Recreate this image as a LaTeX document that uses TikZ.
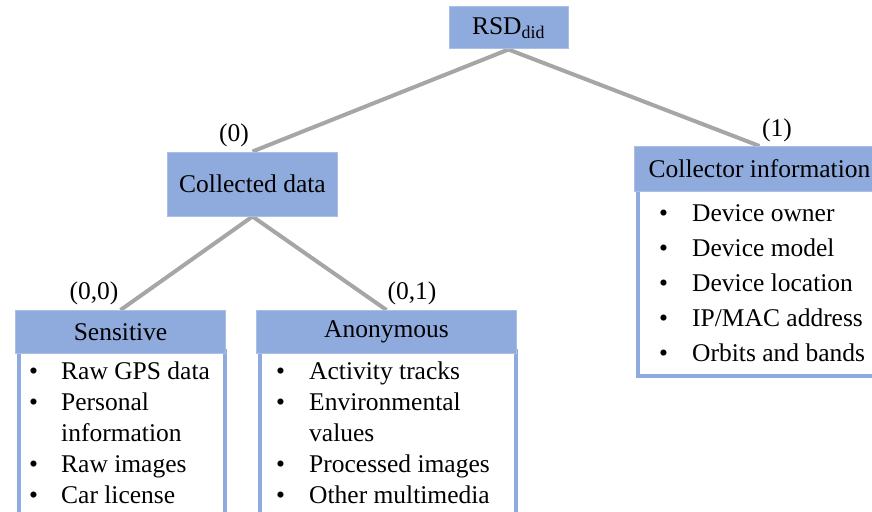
\documentclass[tikz,border=0pt]{standalone}
\usepackage{fontspec}
\setmainfont{Liberation Serif}
\usetikzlibrary{positioning,backgrounds}
\definecolor{boxblue}{RGB}{143,170,220}
\definecolor{linkgray}{RGB}{166,166,166}
\newcommand{\itm}{\textbullet &}
\begin{document}
\begin{tikzpicture}[x=1pt,y=-1pt,
    font=\fontsize{25.5}{31}\selectfont,
    head/.style={rectangle, fill=boxblue, draw=boxblue!75!white, line width=1pt, inner sep=0pt},
    panel/.style={rectangle, fill=white, draw=boxblue, line width=4pt, inner sep=0pt, anchor=north west},
    link/.style={draw=linkgray, line width=4pt},
    tag/.style={inner sep=0pt}]
   \useasboundingbox (0,0) rectangle (872,511);
   \clip (0,0) rectangle (872,511);
   % list panels
   \node[panel, minimum width=206, minimum height=200] (sensitiveBody) at (17,349) {};
   \node[panel, minimum width=256, minimum height=200] (anonymousBody) at (258,349) {};
   \node[panel, minimum width=260, minimum height=186] (collectorBody) at (636,188) {};
   % headers
   \node[head, minimum width=119, minimum height=42] (rsd) at (508.5,28) {RSD\textsubscript{did}};
   \node[head, minimum width=170, minimum height=64] (collected) at (252.5,184) {Collected data};
   \node[head, minimum width=250, minimum height=45, anchor=north west] (collector) at (634,146) {Collector information};
   \node[head, minimum width=210, minimum height=43, anchor=north west] (sensitive) at (15,310) {Sensitive};
   \node[head, minimum width=260, minimum height=43, anchor=north west] (anonymous) at (256,310) {Anonymous};
   % items
   \node[tag, anchor=base west] (collectorList) at (659,221) {\fontsize{25.5}{35}\selectfont
     \begin{tabular}[t]{@{}p{33pt}@{}l@{}}
       \itm Device owner\\ \itm Device model\\ \itm Device location\\
       \itm IP/MAC address\\ \itm Orbits and bands
     \end{tabular}};
   \node[tag, anchor=base west] (sensitiveList) at (29,379) {%
     \begin{tabular}[t]{@{}p{32pt}@{}l@{}}
       \itm Raw GPS data\\ \itm Personal\\ & information\\
       \itm Raw images\\ \itm Car license
     \end{tabular}};
   \node[tag, anchor=base west] (anonymousList) at (276,379) {%
     \begin{tabular}[t]{@{}p{33pt}@{}l@{}}
       \itm Activity tracks\\ \itm Environmental\\ & values\\
       \itm Processed images\\ \itm Other multimedia
     \end{tabular}};
   % branch labels
   \node[tag] (tag0) at (234,135) {(0)};
   \node[tag] (tag1) at (777,130) {(1)};
   \node[tag] (tag00) at (94,293) {(0,0)};
   \node[tag] (tag01) at (412,293) {(0,1)};
   \begin{scope}[on background layer]
     \draw[link] (rsd.south) -- (collected.north);
     \draw[link] (rsd.south) -- (collector.north);
     \draw[link] (collected.south) -- (sensitive.north);
     \draw[link] (collected.south) -- (anonymous.north);
   \end{scope}
\end{tikzpicture}
\end{document}
